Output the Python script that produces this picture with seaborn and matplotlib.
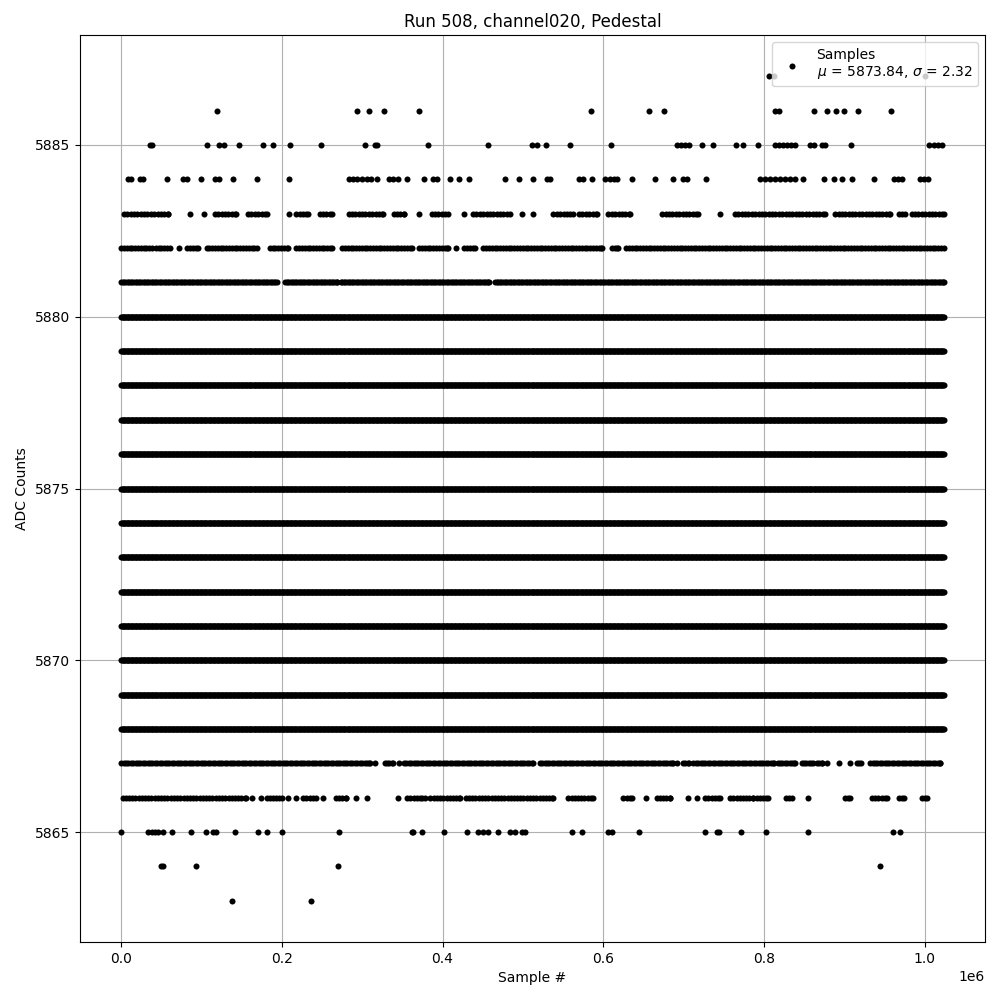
import numpy as np
import pandas as pd
import matplotlib
matplotlib.use('Agg')
import matplotlib.pyplot as plt
import seaborn as sns

# sample positions are in units of 1e6 samples
n_last = 1.024

# levels that are filled the whole way
full_levels = [5868, 5869, 5870, 5871, 5872, 5873, 5874, 5875, 5876, 5877, 5878, 5879, 5880]

# levels with runs of samples (start, end)
runs_5881 = [(0.0, 0.1935), (0.2042, 0.269), (0.2732, 0.4583), (0.4654, 1.024)]
runs_5882 = [(0.0, 0.0378), (0.0432, 0.0606), (0.0722, 0.0722), (0.0822, 0.0959),
             (0.1063, 0.1685), (0.185, 0.208), (0.218, 0.262), (0.275, 0.3616),
             (0.371, 0.407), (0.4168, 0.4168), (0.427, 0.4404), (0.4508, 0.598),
             (0.6106, 0.619), (0.6285, 0.922), (0.926, 1.024)]
runs_5883 = [(0.0033, 0.0585), (0.0863, 0.0863), (0.103, 0.103), (0.1166, 0.1428),
             (0.158, 0.181), (0.209, 0.209), (0.218, 0.233), (0.247, 0.262),
             (0.283, 0.326), (0.339, 0.352), (0.371, 0.371), (0.3865, 0.407),
             (0.4267, 0.4267), (0.438, 0.484), (0.4985, 0.4985), (0.512, 0.512),
             (0.538, 0.562), (0.570, 0.592), (0.6065, 0.6335), (0.6735, 0.7186),
             (0.7455, 0.7455), (0.764, 0.876), (0.8888, 0.957), (0.9676, 0.976),
             (0.984, 1.024)]
runs_5867 = [(0.0, 0.2806), (0.2848, 0.293), (0.297, 0.31), (0.316, 0.316),
             (0.328, 0.338), (0.346, 0.346), (0.352, 0.513), (0.521, 0.6874),
             (0.6924, 0.6924), (0.699, 0.7073), (0.7123, 0.812), (0.817, 0.839),
             (0.847, 0.861), (0.866, 0.872), (0.879, 0.879), (0.893, 0.893),
             (0.9066, 0.9066), (0.9157, 0.9207), (0.9323, 1.0195)]
runs_5866 = [(0.0017, 0.156), (0.1623, 0.1623), (0.1735, 0.1735), (0.181, 0.1997),
             (0.208, 0.208), (0.2175, 0.2175), (0.2267, 0.2424), (0.2516, 0.2516),
             (0.2673, 0.2798), (0.2918, 0.2918), (0.3064, 0.3064), (0.345, 0.345),
             (0.356, 0.374), (0.378, 0.378), (0.385, 0.4218), (0.429, 0.5006),
             (0.5048, 0.538), (0.5567, 0.5878), (0.6252, 0.6355), (0.6534, 0.6534),
             (0.6667, 0.6833), (0.7061, 0.7061), (0.7173, 0.7173), (0.7268, 0.7455),
             (0.758, 0.7862), (0.7912, 0.8057), (0.8277, 0.8348), (0.8543, 0.8543),
             (0.9012, 0.9074), (0.9344, 0.953), (0.9676, 0.9747), (0.9967, 1.003)]

# levels with single samples
pts_5863 = [0.1382, 0.2366]
pts_5864 = [0.0495, 0.0515, 0.0926, 0.2702, 0.944]
pts_5865 = [0.0, 0.0336, 0.0378, 0.0419, 0.0461, 0.0523, 0.0639, 0.0872, 0.1054,
            0.1146, 0.1179, 0.1416, 0.1706, 0.181, 0.2005, 0.271, 0.3616, 0.3636,
            0.3748, 0.4022, 0.4309, 0.4446, 0.45, 0.4562, 0.4695, 0.484, 0.4902,
            0.4985, 0.5027, 0.5616, 0.5741, 0.6056, 0.6106, 0.6442, 0.7273, 0.7414,
            0.7447, 0.7709, 0.8032, 0.8543, 0.9606, 0.9689]
pts_5884 = [0.0083, 0.0117, 0.024, 0.0274, 0.0573, 0.0772, 0.0822, 0.0996, 0.1163,
            0.1213, 0.1395, 0.1694, 0.2092, 0.284, 0.289, 0.294, 0.2997, 0.3056,
            0.3106, 0.318, 0.3338, 0.3387, 0.345, 0.356, 0.377, 0.3885, 0.3928,
            0.4093, 0.421, 0.4326, 0.478, 0.4953, 0.513, 0.5305, 0.534, 0.5704,
            0.5746, 0.5858, 0.6028, 0.6086, 0.6136, 0.6177, 0.6356, 0.6646, 0.6874,
            0.699, 0.7041, 0.7281, 0.7954, 0.8016, 0.8078, 0.814, 0.820, 0.8265,
            0.8327, 0.839, 0.849, 0.875, 0.8867, 0.897, 0.9096, 0.9373, 0.9614,
            0.9664, 0.9713, 0.9946, 0.9996, 1.0046]
pts_5885 = [0.0365, 0.039, 0.107, 0.1217, 0.1275, 0.147, 0.1769, 0.1893, 0.2105,
            0.249, 0.304, 0.3156, 0.318, 0.3815, 0.457, 0.5115, 0.518, 0.529,
            0.559, 0.610, 0.6924, 0.6974, 0.7024, 0.7074, 0.7235, 0.737, 0.7655,
            0.7737, 0.793, 0.814, 0.819, 0.824, 0.829, 0.834, 0.839, 0.8577,
            0.8618, 0.8726, 0.8759, 0.909, 1.005, 1.0116, 1.0166, 1.0216]
pts_5886 = [0.1196, 0.294, 0.309, 0.3275, 0.371, 0.585, 0.6576, 0.676, 0.814,
            0.819, 0.862, 0.879, 0.890, 0.900, 0.917, 0.958]
pts_5887 = [0.806, 0.813, 1.0]

mu = 5873.84
sigma = 2.32

rows = []
for lvl in full_levels:
    for s in np.arange(0.0, n_last + 0.001, 0.001):
        rows.append((s, lvl))
# sparser levels: the dots sit a bit apart so they look beaded
for lvl, runs, step in [(5881, runs_5881, 0.002), (5882, runs_5882, 0.0035),
                        (5883, runs_5883, 0.0042), (5867, runs_5867, 0.003),
                        (5866, runs_5866, 0.004)]:
    for a, b in runs:
        for s in np.append(np.arange(a, b, step), b):
            rows.append((s, lvl))
for lvl, pts in [(5863, pts_5863), (5864, pts_5864), (5865, pts_5865),
                 (5884, pts_5884), (5885, pts_5885), (5886, pts_5886), (5887, pts_5887)]:
    for s in pts:
        rows.append((s, lvl))

df = pd.DataFrame(rows, columns=['sample', 'adc'])
df['sample'] = df['sample'] * 1e6

fig, ax = plt.subplots(figsize=(10, 10), dpi=100)
sns.scatterplot(data=df, x='sample', y='adc', color='black', s=19, linewidth=0,
                marker='o', zorder=2, ax=ax,
                label='Samples\n$\\mu$ = %.2f, $\\sigma$ = %.2f' % (mu, sigma))
ax.grid(True)
ax.set_xlabel('Sample #')
ax.set_ylabel('ADC Counts')
ax.set_title('Run 508, channel020, Pedestal')
ax.legend(loc='upper right')
fig.subplots_adjust(left=0.08, right=0.985, top=0.965, bottom=0.058)
fig.savefig('out.png', dpi=100)
